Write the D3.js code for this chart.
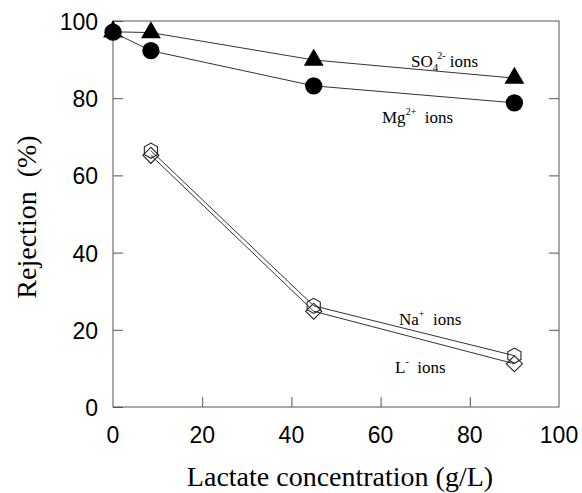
<!DOCTYPE html>
<html>
<head>
<meta charset="utf-8">
<script src="https://cdn.jsdelivr.net/npm/d3@7"></script>
<style>
  body { margin: 0; background: #fff; }
  svg { display: block; }
</style>
</head>
<body>
<svg id="chart" width="582" height="493"></svg>
<script>
// data
const lactate = [0, 8.5, 45, 90]
const so4 = [97.2, 97.0, 89.9, 85.2]
const mg = [97.1, 92.3, 83.2, 78.8]
const na = [null, 66.4, 26.2, 13.3]
const lIon = [null, 65.2, 24.8, 11.2]
const xTicks = [0, 20, 40, 60, 80, 100]
const yTicks = [0, 20, 40, 60, 80, 100]

const svg = d3.select("#chart")
const margin = {left: 113, right: 23, top: 21, bottom: 86}
const W = 582, H = 493

const x = d3.scaleLinear().domain([0, 100]).range([margin.left, W - margin.right])
const y = d3.scaleLinear().domain([0, 100]).range([H - margin.bottom, margin.top])

const axisColor = "#555"

// frame
svg.append("rect")
    .attr("x", x(0)).attr("y", y(100))
    .attr("width", x(100) - x(0)).attr("height", y(0) - y(100))
    .attr("fill", "none").attr("stroke", axisColor).attr("stroke-width", 1)

// left axis, ticks inward
const yAxis = svg.append("g")
    .attr("transform", `translate(${x(0)},0)`)
    .call(d3.axisRight(y).tickValues(yTicks).tickSize(10).tickFormat(""))
yAxis.select(".domain").remove()
yAxis.selectAll("line").attr("stroke", axisColor)

// right axis ticks inward
const yAxisR = svg.append("g")
    .attr("transform", `translate(${x(100)},0)`)
    .call(d3.axisLeft(y).tickValues(yTicks.slice(1, 5)).tickSize(10).tickFormat(""))
yAxisR.select(".domain").remove()
yAxisR.selectAll("line").attr("stroke", axisColor)

// bottom axis ticks inward
const xAxis = svg.append("g")
    .attr("transform", `translate(0,${y(0)})`)
    .call(d3.axisTop(x).tickValues(xTicks.slice(1, 5)).tickSize(10).tickFormat(""))
xAxis.select(".domain").remove()
xAxis.selectAll("line").attr("stroke", axisColor)

// tick labels
svg.selectAll(".ylab")
    .data(yTicks)
    .enter()
    .append("text")
    .attr("x", x(0) - 15)
    .attr("y", d => y(d) + 9)
    .attr("text-anchor", "end")
    .style("font-family", "'Liberation Sans', Arial, sans-serif")
    .style("font-size", "23px")
    .text(d => d)

svg.selectAll(".xlab")
    .data(xTicks)
    .enter()
    .append("text")
    .attr("x", d => x(d))
    .attr("y", y(0) + 36)
    .attr("text-anchor", "middle")
    .style("font-family", "'Liberation Sans', Arial, sans-serif")
    .style("font-size", "23px")
    .text(d => d)

// axis titles
svg.append("text")
    .attr("x", 340).attr("y", 486)
    .attr("text-anchor", "middle")
    .style("font-family", "'Liberation Serif', 'Times New Roman', serif")
    .style("font-size", "28px")
    .text("Lactate concentration (g/L)")

svg.append("text")
    .attr("transform", "translate(36,217) rotate(-90)")
    .attr("text-anchor", "middle")
    .style("font-family", "'Liberation Serif', 'Times New Roman', serif")
    .style("font-size", "28px")
    .attr("xml:space", "preserve")
    .text("Rejection  (%)")

// lines
const line = d3.line()
    .defined(d => d[1] != null)
    .x(d => x(d[0]))
    .y(d => y(d[1]))

const series = [
    {vals: so4, shape: "triangle"},
    {vals: mg, shape: "circle"},
    {vals: na, shape: "hexagon"},
    {vals: lIon, shape: "diamond"}
]

series.forEach(s => {
    const pts = lactate.map((v, i) => [v, s.vals[i]])
    svg.append("path")
        .datum(pts)
        .attr("d", line)
        .attr("fill", "none")
        .attr("stroke", "#333")
        .attr("stroke-width", 1)
})

// markers
const hexagon = {
    draw(ctx, size) {
        const r = Math.sqrt(size / 2.598)
        for (let k = 0; k < 6; k++) {
            const a = Math.PI / 6 + k * Math.PI / 3
            const px = r * Math.cos(a), py = r * Math.sin(a)
            if (k === 0) ctx.moveTo(px, py); else ctx.lineTo(px, py)
        }
        ctx.closePath()
    }
}

series.forEach(s => {
    const pts = lactate.map((v, i) => [v, s.vals[i]]).filter(d => d[1] != null)
    let sym, fill = "#000", stroke = "none", rot = 0
    if (s.shape === "circle") sym = d3.symbol(d3.symbolCircle, 235)
    else if (s.shape === "triangle") sym = d3.symbol(d3.symbolTriangle, 170)
    else if (s.shape === "hexagon") { sym = d3.symbol(hexagon, 150); fill = "none"; stroke = "#222" }
    else { sym = d3.symbol(d3.symbolSquare, 130); fill = "none"; stroke = "#222"; rot = 45 }
    svg.selectAll(null)
        .data(pts)
        .enter()
        .append("path")
        .attr("d", sym)
        .attr("transform", d => `translate(${x(d[0])},${y(d[1])}) rotate(${rot})`)
        .attr("fill", fill)
        .attr("stroke", stroke)
        .attr("stroke-width", 1.1)
})

// annotations
function label(px, py, base, sup, sub) {
    const t = svg.append("text")
        .attr("x", px).attr("y", py)
        .style("font-family", "'Liberation Serif', 'Times New Roman', serif")
        .style("font-size", "17px")
    t.append("tspan").text(base)
    if (sub) {
        t.append("tspan").attr("dy", 4).style("font-size", "11px").text(sub)
        t.append("tspan").attr("dy", -12).attr("dx", -1).style("font-size", "10px").text(sup)
        t.append("tspan").attr("dy", 8).text(" ions")
    } else {
        t.append("tspan").attr("dy", -8).style("font-size", "10px").text(sup)
        t.append("tspan").attr("dy", 8).text("  ions")
    }
    t.attr("xml:space", "preserve")
}

label(411, 67, "SO", "2-", "4")
label(382, 123, "Mg", "2+")
label(399, 325, "Na", "+")
label(395, 373, "L", "-")
</script>
</body>
</html>
